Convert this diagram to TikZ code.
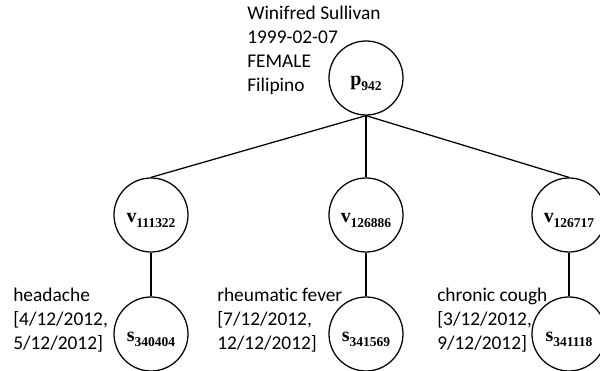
\documentclass[tikz,border=0pt]{standalone}
\usepackage{fontspec}
\setmainfont{Carlito}[Ligatures=CommonOff]
\newfontfamily\labelfont{Liberation Serif}

% bold id with a lowered index, e.g. v_111322
\newcommand{\idlabel}[2]{{\labelfont\bfseries\fontsize{14.2}{16}\selectfont #1\raisebox{-3.5pt}{\fontsize{9.6}{11}\selectfont #2}}}

\tikzset{
  vertex/.style={draw, circle, line width=0.9pt, minimum size=1.85cm, inner sep=0pt,
    text height=11pt, text depth=0pt},
  info/.style={anchor=base west, inner sep=0pt, align=left,
    font=\fontsize{13.8}{17.1}\selectfont},
  edge/.style={line width=0.9pt}
}

\begin{document}
\begin{tikzpicture}
  \useasboundingbox (0,0) rectangle (15,-9.275);

  % patient (info nodes sit on the baseline of their last line)
  \node[vertex] (p942) at (9.15, -1.95) {\idlabel{p}{942}};
  \node[info] (pinfo) at (6.175, -2.3) {Winifred Sullivan\\1999-02-07\\FEMALE\\Filipino};

  % visits
  \node[vertex] (v111322) at (3.775, -5.375) {\idlabel{v}{111322}};
  \node[vertex] (v126886) at (9.15, -5.375) {\idlabel{v}{126886}};
  \node[vertex] (v126717) at (14.225, -5.375) {\idlabel{v}{126717}};

  % symptoms
  \node[vertex] (s340404) at (3.775, -8.35) {\idlabel{s}{340404}};
  \node[vertex] (s341569) at (9.15, -8.35) {\idlabel{s}{341569}};
  \node[vertex] (s341118) at (14.225, -8.35) {\idlabel{s}{341118}};

  \node[info] (s340404info) at (0.325, -8.75) {headache\\{[}4/12/2012,\\5/12/2012{]}};
  \node[info] (s341569info) at (5.425, -8.75) {rheumatic fever\\{[}7/12/2012,\\12/12/2012{]}};
  \node[info] (s341118info) at (10.925, -8.75) {chronic cough\\{[}3/12/2012,\\9/12/2012{]}};

  \draw[edge] (p942.south) -- (v111322.north);
  \draw[edge] (p942.south) -- (v126886.north);
  \draw[edge] (p942.south) -- (v126717.north);
  \draw[edge] (v111322) -- (s340404);
  \draw[edge] (v126886) -- (s341569);
  \draw[edge] (v126717) -- (s341118);
\end{tikzpicture}
\end{document}
